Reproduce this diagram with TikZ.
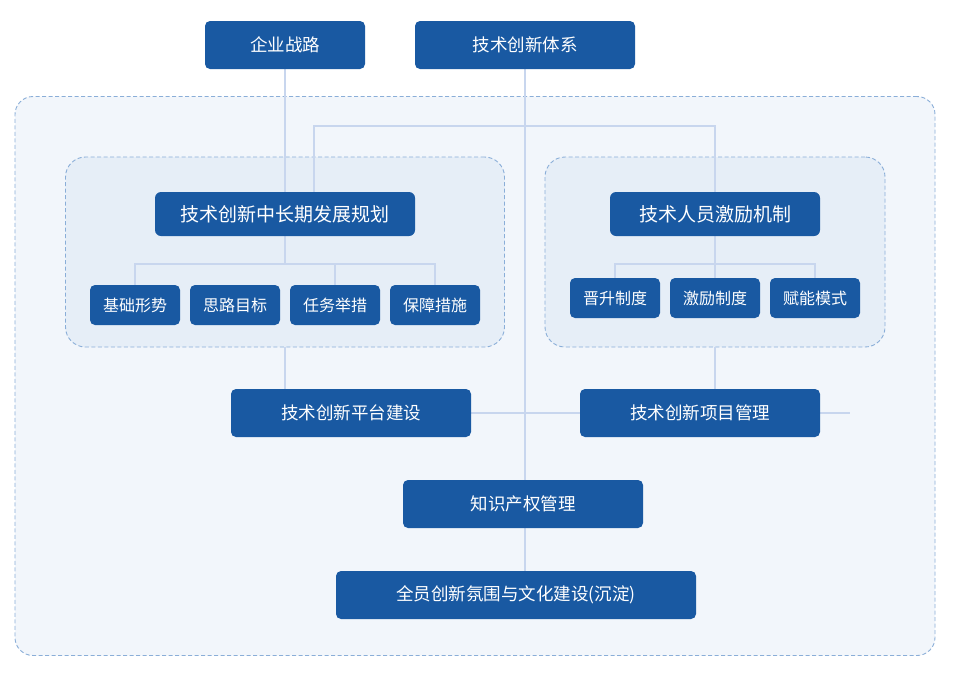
\documentclass[tikz,border=0pt]{standalone}
\usepackage{fontspec}
\setmainfont{Noto Sans CJK SC}
\usetikzlibrary{calc}
\definecolor{nodeblue}{RGB}{25,89,162}
\definecolor{linec}{RGB}{200,214,238}
\definecolor{dashc}{RGB}{138,174,216}
\definecolor{outerfill}{RGB}{242,246,251}
\definecolor{innerfill}{RGB}{230,238,247}
\pgfdeclarelayer{bg}
\pgfdeclarelayer{lines}
\pgfsetlayers{bg,lines,main}
\tikzset{
  blk/.style={fill=nodeblue, text=white, rounded corners=5pt, inner sep=0pt, anchor=center},
  topbox/.style={blk, minimum height=48pt, font=\fontsize{17.5pt}{18pt}\selectfont},
  planbox/.style={blk, minimum height=44pt, rounded corners=6pt, font=\fontsize{19pt}{20pt}\selectfont},
  smallbox/.style={blk, minimum width=90pt, minimum height=40pt, font=\fontsize{16pt}{17pt}\selectfont},
  grp/.style={draw=dashc, line width=0.9pt, dash pattern=on 4pt off 2.5pt, inner sep=0pt},
  conn/.style={draw=linec, line width=1.8pt},
}
\begin{document}
\begin{tikzpicture}[x=1pt,y=-1pt]
\useasboundingbox (0,0) rectangle (960,691);
\begin{pgfonlayer}{bg}
\fill[white] (0,0) rectangle (960,691);
% group boxes
\node[grp, fill=outerfill, rounded corners=18pt, minimum width=920pt, minimum height=559pt] (outer) at (475,376) {};
\node[grp, fill=innerfill, rounded corners=20pt, minimum width=439pt, minimum height=190pt] (lgrp) at (285,252) {};
\node[grp, fill=innerfill, rounded corners=20pt, minimum width=340pt, minimum height=190pt] (rgrp) at (715,252) {};
\end{pgfonlayer}

% top nodes
\node[topbox, minimum width=160pt] (strat) at (285,45) {企业战路};
\node[topbox, minimum width=220pt] (sys) at (525,45) {技术创新体系};

% level 2
\node[planbox, minimum width=260pt] (plan) at (285,214) {技术创新中长期发展规划};
\node[planbox, minimum width=210pt] (inc) at (715,214) {技术人员激励机制};

% small boxes left
\node[smallbox] (b1) at (135,305) {基础形势};
\node[smallbox] (b2) at (235,305) {思路目标};
\node[smallbox] (b3) at (335,305) {任务举措};
\node[smallbox] (b4) at (435,305) {保障措施};

% small boxes right
\node[smallbox] (r1) at (615,298) {晋升制度};
\node[smallbox] (r2) at (715,298) {激励制度};
\node[smallbox] (r3) at (815,298) {赋能模式};

% lower nodes
\node[topbox, minimum width=240pt] (plat) at (351,413) {技术创新平台建设};
\node[topbox, minimum width=240pt] (proj) at (700,413) {技术创新项目管理};
\node[topbox, minimum width=240pt] (kip) at (523,504) {知识产权管理};
\node[topbox, minimum width=360pt] (cult) at (516,595) {全员创新氛围与文化建设(沉淀)};

% coordinates
\coordinate (busL) at (314,126);
\coordinate (busR) at (715,126);
\coordinate (lbus) at (285,264);
\coordinate (rbus) at (715,264);
\coordinate (stub) at (850,413);

\begin{pgfonlayer}{lines}
\draw[conn] (strat.south) -- (plan.north);
\draw[conn] (sys.south) -- (kip.north -| sys.south);
\draw[conn] (plan.north -| busL) -- (busL) -- (busR) -- (inc.north);
% left sub bus
\draw[conn] (plan.south) -- (lbus);
\draw[conn] (b1.north) |- (lbus) -| (b4.north);
\draw[conn] (b3.north) -- (b3.north |- lbus);
% right sub bus
\draw[conn] (inc.south) -- (rbus);
\draw[conn] (r1.north) |- (rbus) -| (r3.north);
\draw[conn] (r2.north) -- (rbus);
% group bottoms
\draw[conn] (lgrp.south) -- (lgrp.south |- plat.north);
\draw[conn] (rgrp.south) -- (rgrp.south |- proj.north);
% horizontal at platform level
\draw[conn] (plat.east) -- (proj.west);
\draw[conn] (proj.east) -- (stub);
% knowledge to culture
\draw[conn] (kip.south -| sys.south) -- (cult.north -| sys.south);
\end{pgfonlayer}
\end{tikzpicture}
\end{document}
